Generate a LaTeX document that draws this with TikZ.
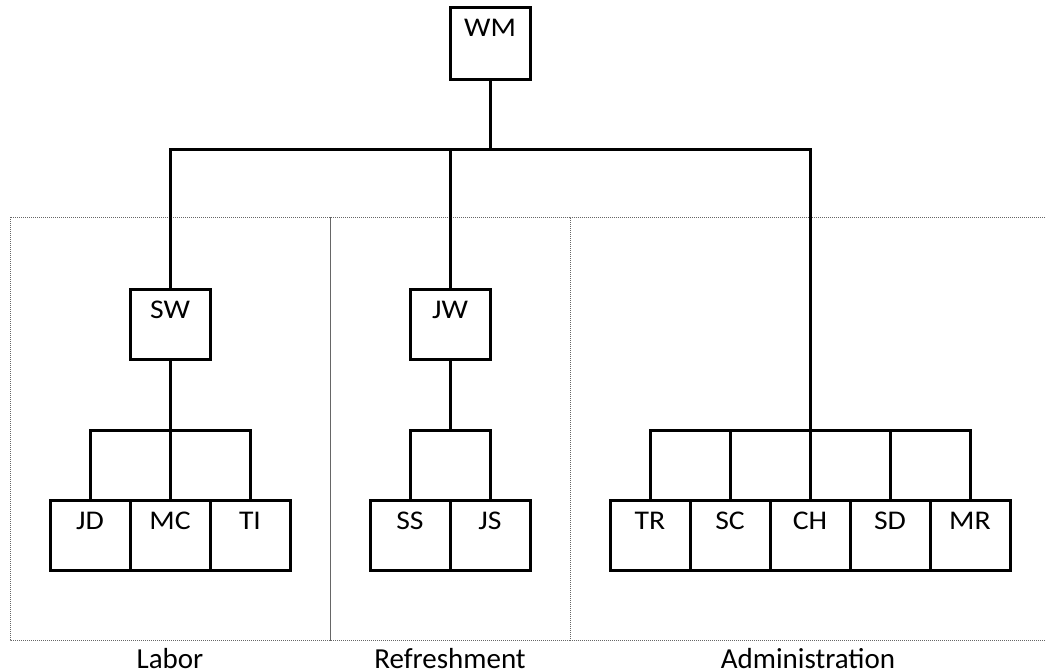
\documentclass[tikz,border=0pt]{standalone}
\usepackage{fontspec}
\setmainfont{Carlito}
\newfontfamily\boxfont[FakeStretch=1.1]{Carlito}
\begin{document}
\begin{tikzpicture}[x=1pt,y=-1pt,
  orgbox/.style={draw=black,line width=3pt,rectangle,inner sep=0pt,
    minimum width=80pt,text height=29pt,text depth=41pt,
    font=\boxfont\fontsize{27}{32}\selectfont},
  topbox/.style={orgbox,text depth=43pt},
  conn/.style={draw=black,line width=3pt,line join=miter},
  group/.style={draw=black!60,line width=1pt,dash pattern=on 1pt off 1pt},
  grouplabel/.style={anchor=base,inner sep=0pt,text depth=0pt,
    font=\fontsize{29}{34}\selectfont}]
\useasboundingbox (0,0) rectangle (1045,672);
% group frames
\draw[group] (10,217) rectangle (330,640);
\draw[group] (330,217) rectangle (570,640);
\draw[group] (1045,217) -- (570,217) -- (570,640) -- (1045,640);
\node[grouplabel] (labor) at (170,668) {Labor};
\node[grouplabel] (refresh) at (450,668) {Refreshment};
\node[grouplabel] (admin) at (808,668) {Administration};
% boxes
\node[topbox] (wm) at (490,43) {WM};
\node[orgbox] (sw) at (170,324) {SW};
\node[orgbox] (jw) at (450,324) {JW};
\node[orgbox] (jd) at (90,535) {JD};
\node[orgbox] (mc) at (170,535) {MC};
\node[orgbox] (ti) at (250,535) {TI};
\node[orgbox] (ss) at (410,535) {SS};
\node[orgbox] (js) at (490,535) {JS};
\node[orgbox] (tr) at (650,535) {TR};
\node[orgbox] (sc) at (730,535) {SC};
\node[orgbox] (ch) at (810,535) {CH};
\node[orgbox] (sd) at (890,535) {SD};
\node[orgbox] (mr) at (970,535) {MR};
% junctions
\coordinate (top) at (490,149);
\coordinate (swj) at (170,430);
\coordinate (jwj) at (450,430);
\coordinate (admj) at (810,430);
% connectors
\draw[conn] (wm.south) -- (top);
\draw[conn] (sw.north) |- (top);
\draw[conn] (jw.north) |- (top);
\draw[conn] (admj) |- (top);
\draw[conn] (sw.south) -- (swj);
\draw[conn] (jd.north) |- (swj);
\draw[conn] (mc.north) -- (swj);
\draw[conn] (ti.north) |- (swj);
\draw[conn] (jw.south) -- (jwj);
\draw[conn] (ss.north) |- (jwj);
\draw[conn] (js.north) |- (jwj);
\draw[conn] (tr.north) |- (admj);
\draw[conn] (sc.north) |- (admj);
\draw[conn] (ch.north) -- (admj);
\draw[conn] (sd.north) |- (admj);
\draw[conn] (mr.north) |- (admj);
\end{tikzpicture}
\end{document}
